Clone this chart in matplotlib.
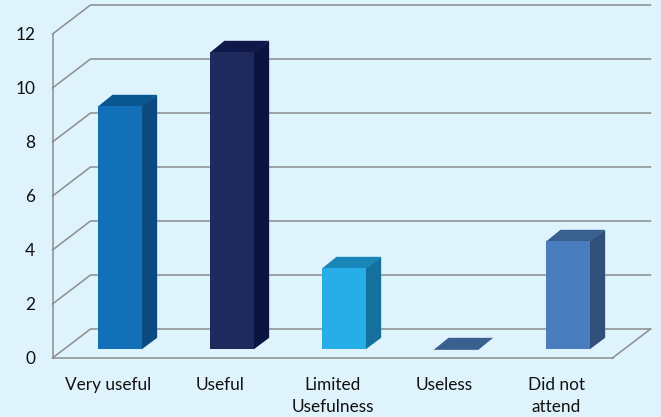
import matplotlib
matplotlib.use("Agg")
import matplotlib.pyplot as plt

categories = ["Very useful", "Useful", "Limited\nUsefulness", "Useless", "Did not\nattend"]
values = [9, 11, 3, 0, 4]
yticks = [0, 2, 4, 6, 8, 10, 12]
front_colors = ["#1270B8", "#1E2A5E", "#27AEE8", "#3A6090", "#4A7DBE"]
side_colors = ["#0A4A7E", "#0B1440", "#14709C", "#2F5079", "#2F5079"]
top_colors = ["#0A5690", "#10184A", "#1A85B8", "#3A6090", "#3A6090"]

W, H = 661, 417
BG = "#DFF3FD"
GRID = "#8C8C8C"
plt.rcParams["font.family"] = ["Lato", "DejaVu Sans"]

fig = plt.figure(figsize=(W / 100, H / 100), dpi=100, facecolor=BG)
left, right, top, bottom = 52.5, 612.5, 34.0, 358.0
ax = fig.add_axes([left / W, 1 - bottom / H, (right - left) / W, (bottom - top) / H])
ax.set_facecolor("none")
ax.set_xlim(-0.5, 4.5)
ax.set_ylim(0, 12)

# pixel-to-data factors for the oblique depth
ux = (right - left) / 5
uy = (bottom - top) / 12
depth_x, depth_y = 38 / ux, 29 / uy
bar_w = 44.7 / ux
bar_off_x, bar_off_y = 11.5 / ux, 8.7 / uy
bar_dx, bar_dy = 14.8 / ux, 11.5 / uy
seam = 0.6 / ux

# walls
for v in yticks:
    ax.plot([-0.5, -0.5 + depth_x, 4.5 + depth_x],
            [v, v + depth_y, v + depth_y], color=GRID, lw=1.1, clip_on=False, zorder=1)
ax.plot([4.5, 4.5 + depth_x], [0, depth_y], color=GRID, lw=1.1, clip_on=False, zorder=1)

# bars
xs = list(range(len(values)))
cx = [x + bar_off_x for x in xs]
ax.bar(cx, values, width=bar_w, bottom=bar_off_y, color=front_colors, zorder=4, clip_on=False)
for c, v, fc, sc, tc in zip(cx, values, front_colors, side_colors, top_colors):
    l, r = c - bar_w / 2, c + bar_w / 2
    b, t = bar_off_y, bar_off_y + v
    if v > 0:
        ax.fill([r - seam, r + bar_dx, r + bar_dx, r - seam], [b, b + bar_dy, t + bar_dy, t],
                color=sc, lw=0, zorder=3, clip_on=False)
    ax.fill([l, r, r + bar_dx, l + bar_dx], [t - 0.02, t - 0.02, t + bar_dy, t + bar_dy],
            color=tc, lw=0, zorder=3.5, clip_on=False)

# axes
for s in ("top", "right"):
    ax.spines[s].set_visible(False)
for s in ("left", "bottom"):
    ax.spines[s].set_color(GRID)
    ax.spines[s].set_linewidth(1.1)
ax.set_yticks(yticks)
ax.set_xticks(xs)
ax.set_xticklabels(categories, linespacing=1.5)
ax.tick_params(axis="both", length=0, labelsize=12.4, labelcolor="#111111")
ax.tick_params(axis="y", pad=12.5)
ax.tick_params(axis="x", pad=13.5)

fig.savefig("out.png", dpi=100, facecolor=BG)
